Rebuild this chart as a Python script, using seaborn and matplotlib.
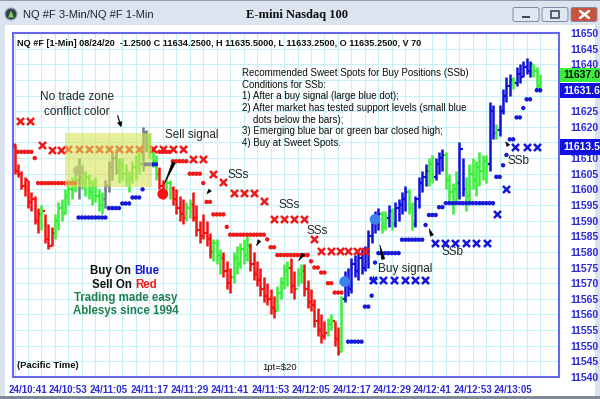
import numpy as np
import pandas as pd
import matplotlib
matplotlib.use("Agg")
import matplotlib.pyplot as plt
import seaborn as sns
from matplotlib.patches import Rectangle, FancyBboxPatch, Circle, Polygon

# 1-min bars from 10:37 to 13:13 (bar index 0..156)
bar_low = [11605, 11604, 11600, 11598, 11594, 11593, 11589, 11586, 11587, 11583,
           11581, 11582, 11584, 11587, 11590, 11592, 11595, 11597, 11599, 11597,
           11600, 11598, 11597, 11595, 11596, 11593, 11592, 11594, 11599, 11603,
           11605, 11602, 11603, 11601, 11599, 11602, 11603, 11605, 11606, 11612,
           11610, 11607, 11603, 11600, 11597, 11598, 11597, 11595, 11592, 11590,
           11589, 11590, 11591, 11590, 11585, 11583, 11584, 11582, 11578, 11577,
           11576, 11573, 11572, 11568, 11567, 11570, 11573, 11575, 11576, 11577,
           11574, 11571, 11569, 11566, 11564, 11563, 11560, 11559, 11561, 11565,
           11568, 11569, 11567, 11565, 11569, 11570, 11566, 11562, 11561, 11556,
           11553, 11551, 11552, 11553, 11555, 11550, 11547, 11548, 11564, 11566,
           11567, 11572, 11571, 11573, 11574, 11575, 11583, 11586, 11587, 11586,
           11587, 11588, 11587, 11588, 11590, 11592, 11593, 11592, 11587, 11588,
           11594, 11599, 11601, 11601, 11602, 11603, 11605, 11606, 11600, 11596,
           11592, 11596, 11597, 11598, 11593, 11596, 11600, 11598, 11601, 11603,
           11602, 11606, 11616, 11616, 11617, 11624, 11628, 11630, 11632, 11633,
           11634, 11636, 11637, 11636, 11636, 11632, 11631]
bar_high = [11614, 11608, 11606, 11604, 11603, 11599, 11598, 11594, 11595, 11592,
            11589, 11588, 11592, 11596, 11597, 11600, 11603, 11604, 11605, 11610,
            11608, 11606, 11605, 11603, 11604, 11600, 11599, 11603, 11609, 11612,
            11613, 11610, 11610, 11608, 11606, 11609, 11611, 11612, 11620, 11619,
            11618, 11614, 11611, 11607, 11603, 11604, 11603, 11601, 11600, 11598,
            11597, 11596, 11597, 11599, 11595, 11590, 11592, 11590, 11586, 11584,
            11584, 11581, 11580, 11577, 11575, 11580, 11582, 11583, 11584, 11585,
            11583, 11580, 11577, 11575, 11572, 11570, 11568, 11566, 11569, 11572,
            11576, 11577, 11578, 11574, 11575, 11576, 11576, 11571, 11568, 11565,
            11562, 11560, 11558, 11559, 11560, 11558, 11556, 11566, 11574, 11575,
            11578, 11579, 11580, 11581, 11582, 11587, 11591, 11593, 11594, 11593,
            11593, 11595, 11594, 11596, 11597, 11599, 11601, 11600, 11596, 11598,
            11604, 11606, 11608, 11610, 11611, 11610, 11612, 11613, 11612, 11605,
            11602, 11606, 11615, 11610, 11604, 11608, 11610, 11609, 11612, 11611,
            11611, 11628, 11627, 11621, 11627, 11632, 11636, 11637, 11636, 11639,
            11640, 11641, 11642, 11641, 11640, 11639, 11637]
bar_close = [11606, 11605, 11601, 11603, 11596, 11597, 11590, 11592, 11593, 11584,
             11582, 11586, 11590, 11594, 11592, 11598, 11600, 11602, 11603, 11604,
             11602, 11604, 11599, 11601, 11598, 11595, 11597, 11601, 11607, 11610,
             11606, 11608, 11605, 11603, 11604, 11607, 11609, 11608, 11618, 11614,
             11612, 11609, 11605, 11601, 11599, 11602, 11600, 11597, 11594, 11592,
             11591, 11594, 11595, 11591, 11587, 11585, 11586, 11584, 11580, 11583,
             11579, 11578, 11574, 11570, 11572, 11578, 11576, 11581, 11579, 11582,
             11576, 11573, 11571, 11568, 11566, 11565, 11562, 11561, 11567, 11570,
             11574, 11575, 11569, 11568, 11573, 11574, 11568, 11564, 11563, 11558,
             11555, 11553, 11554, 11557, 11558, 11552, 11548, 11565, 11571, 11568,
             11576, 11574, 11578, 11575, 11580, 11585, 11589, 11590, 11592, 11588,
             11591, 11593, 11589, 11594, 11595, 11597, 11599, 11594, 11589, 11597,
             11602, 11604, 11606, 11608, 11604, 11608, 11610, 11611, 11603, 11599,
             11600, 11602, 11613, 11600, 11598, 11605, 11603, 11607, 11606, 11609,
             11608, 11625, 11618, 11619, 11625, 11630, 11633, 11635, 11634, 11637,
             11636, 11639, 11638, 11640, 11638, 11633, 11634]
# R = sell (red), G = green, B = buy (blue), K = grey (conflict)
bar_color = list("RRRRRRRR" "G" "RRR" "GGGGGGG" "K" "GGGGGGG" "KKKK" "GGGGGGG" "KK"
                 "GGG" "RR" "GG" "RRRR" "GG" "RRRRRR" "GGG" "RRR" "GGGGG" "RRRRRRRR"
                 "GGGG" "RR" "GG" "RRRRRRR" "GG" "RR" "G" "BBBBBBBBBBB" "GG" "B" "G"
                 "BBBB" "GG" "BBBB" "GG" "BBB" "GGGG" "BB" "GGGGGGG" "BB" "G" "BBBB"
                 "G" "BBBBB" "GGG")

# trailing stop dots: (first bar, last bar, price)
red_dot_runs = [(0, 0, 11614), (1, 5, 11612), (6, 6, 11610), (7, 18, 11602),
                (43, 46, 11612), (47, 51, 11609), (52, 55, 11605), (56, 56, 11602),
                (57, 58, 11596), (59, 62, 11592), (63, 63, 11588), (64, 74, 11585.5),
                (75, 75, 11584), (76, 77, 11581.5), (78, 87, 11579), (88, 88, 11577),
                (89, 90, 11575), (91, 92, 11573.4), (93, 94, 11570), (95, 97, 11567)]
blue_dot_runs = [(19, 27, 11591), (28, 31, 11594), (32, 34, 11595.5), (35, 37, 11597.4),
                 (38, 38, 11600), (39, 42, 11608), (99, 103, 11551.3), (104, 105, 11562.5),
                 (106, 106, 11566), (107, 107, 11576.6), (108, 114, 11579.6),
                 (115, 121, 11583.9), (122, 122, 11588.6), (123, 125, 11591.8),
                 (126, 127, 11594.3), (128, 142, 11595.6), (143, 144, 11604),
                 (145, 145, 11607.7), (146, 146, 11611), (147, 148, 11616),
                 (149, 150, 11623), (151, 151, 11626), (152, 153, 11628.8),
                 (155, 156, 11631.7)]

# sweet spot markers
sss_x = [1.6, 4.6, 8.2, 11.1, 13.8, 16, 19, 22, 25, 28, 31, 34, 37, 41, 44, 47, 50,
         53, 56, 59, 62, 65, 68, 71, 74, 77, 80, 83, 86, 89,
         91, 94, 96.5, 99, 101.5, 104]
sss_y = [11622, 11622, 11614.2, 11612.6, 11612.6] + [11612.8] * 12 + \
        [11609.7, 11609.7, 11604.9, 11602.3, 11598.8, 11598.8, 11598.8, 11596.3] + \
        [11590.5] * 4 + [11584.1] + [11580.4] * 6
ssb_x = [106.4, 109.3, 112.6, 115.9, 119, 121.8, 124.8, 127.8, 130.7, 134, 137, 140.2,
         143.2, 145.8, 148.5, 152, 155]
ssb_y = [11571] * 6 + [11582.8] * 6 + [11592.1, 11600.1, 11613.5, 11613.5, 11613.5]

# signal dots
signal_x = [19, 44, 98, 107]
signal_y = [11606, 11598.5, 11570.5, 11590.4]
signal_kind = ["conflict", "sell", "buy", "buy"]

xtick_labels = ["24/10:41", "24/10:53", "24/11:05", "24/11:17", "24/11:29", "24/11:41",
                "24/11:53", "24/12:05", "24/12:17", "24/12:29", "24/12:41", "24/12:53",
                "24/13:05"]
# price levels hidden behind the last-price boxes
hidden_levels = [11615, 11630, 11635]

sns.set_style("white")
plt.rcParams['font.family'] = ['Liberation Sans', 'DejaVu Sans']

col_map = {"R": "#f21212", "G": "#38ee38", "B": "#1010d8", "K": "#6f7a82"}
blue_txt = "#2b2bd8"

fig = plt.figure(figsize=(6, 3.99), dpi=100)
fig.patch.set_facecolor("white")

# background / window frame (pixel coordinates)
bg = fig.add_axes([0, 0, 1, 1], zorder=0)
bg.set_xlim(0, 600)
bg.set_ylim(399, 0)
bg.axis("off")
bg.add_patch(Rectangle((0, 0), 600, 399, facecolor="#d9e2ed", edgecolor="none"))
bg.add_patch(Rectangle((5, 25), 590, 371, facecolor="white", edgecolor="none"))
bg.add_patch(Rectangle((0, 396), 600, 3, facecolor="#7f8a96", edgecolor="none"))

ax = fig.add_axes([13 / 600, 1 - 377 / 399, 546 / 600, 344 / 399], zorder=2)
ax.set_facecolor("none")
px = bg.transData

n = len(bar_close)
idx = np.arange(n)
bars = pd.DataFrame({"i": idx, "low": bar_low, "high": bar_high,
                     "close": bar_close, "kind": bar_color})
bars["open"] = bars["close"].shift(1).fillna(bars["high"])
colors = [col_map[k] for k in bars["kind"]]

ax.vlines(bars["i"], bars["low"], bars["high"], colors=colors, lw=1.8, zorder=3)
ax.hlines(bars["open"], bars["i"] - 0.6, bars["i"], colors=colors, lw=1.6, zorder=3)
ax.hlines(bars["close"], bars["i"], bars["i"] + 0.6, colors=colors, lw=1.6, zorder=3)

def expand(runs, name):
    rows = []
    for a, b, p in runs:
        for k in range(a, b + 1):
            rows.append((k, p, name))
    return rows

dots = pd.DataFrame(expand(red_dot_runs, "red") + expand(blue_dot_runs, "blue"),
                    columns=["i", "price", "side"])
sns.scatterplot(data=dots, x="i", y="price", hue="side",
                palette={"red": "#f01818", "blue": "#1818d8"},
                s=10, linewidth=0, legend=False, ax=ax, zorder=4)

ax.scatter(sss_x, sss_y, marker="x", s=26, linewidths=1.8, color="#f01818", zorder=4)
ax.scatter(ssb_x, ssb_y, marker="x", s=26, linewidths=1.8, color="#1616d8", zorder=4)
ax.scatter([ssb_x[0]], [ssb_y[0]], marker="*", s=60, linewidths=0, color="#1616d8", zorder=4)

sig = pd.DataFrame({"i": signal_x, "price": signal_y, "kind": signal_kind})
sns.scatterplot(data=sig, x="i", y="price", hue="kind",
                palette={"conflict": "#8c9aa2", "sell": "#ff0f0f", "buy": "#3b82ee"},
                s=60, linewidth=0, legend=False, ax=ax, zorder=5)

# no trade zone
ax.add_patch(Rectangle((15, 11600.7), 25.8, 17.3, facecolor="#d8e35a", alpha=0.6,
                       edgecolor="none", zorder=6))

ax.set_xlim(-0.45, 161.6)
ax.set_ylim(11540, 11650)
ax.set_xticks(np.arange(0, 157, 4))
lab = []
for t in np.arange(0, 157, 4):
    k = (t - 4) // 12
    lab.append(xtick_labels[k] if (t - 4) % 12 == 0 and 0 <= k < len(xtick_labels) else "")
ax.set_xticklabels(lab)
levels = np.arange(11540, 11651, 5)
ax.set_yticks(levels)
ax.set_yticklabels(["" if v in hidden_levels else str(v) for v in levels])
ax.yaxis.tick_right()
ax.tick_params(axis="y", length=0, pad=8, labelsize=7.5, labelcolor=blue_txt)
ax.tick_params(axis="x", length=3, width=1, color="#5a5ae8", pad=3,
               labelsize=7.0, labelcolor=blue_txt)
for t in ax.get_xticklabels() + ax.get_yticklabels():
    t.set_fontweight("bold")
ax.grid(True, color="#c4f0f6", lw=0.8, zorder=0)
ax.set_axisbelow(True)
for s in ax.spines.values():
    s.set_color("#6666ee")
    s.set_linewidth(1.5)
ax.set_xlabel("")
ax.set_ylabel("")

# header and notes
ax.text(17, 43, "NQ #F [1-Min] 08/24/20  -1.2500 C 11634.2500, H 11635.5000, "
        "L 11633.2500, O 11635.2500, V 70", transform=px, fontsize=6.6,
        fontweight="bold", va="center", color="#111111")
notes = ["Recommended Sweet Spots for Buy Positions (SSb)",
         "Conditions for SSb:",
         "1) After a buy signal (large blue dot);",
         "2) After market has tested support levels (small blue",
         "    dots below the bars);",
         "3) Emerging blue bar or green bar closed high;",
         "4) Buy at Sweet Spots."]
for k, line in enumerate(notes):
    ax.text(242, 73 + k * 11.7, line, transform=px, fontsize=7, va="center",
            color="#111111")

ax.text(77, 97, "No trade zone", transform=px, fontsize=8.5, ha="center", va="center",
        zorder=7)
ax.text(77, 112, "conflict color", transform=px, fontsize=8.5, ha="center", va="center",
        zorder=7)
ax.text(165, 135, "Sell signal", transform=px, fontsize=8.5, va="center", zorder=7)
ax.text(238, 175, "SSs", transform=px, fontsize=8.5, ha="center", va="center")
ax.text(289, 205, "SSs", transform=px, fontsize=8.5, ha="center", va="center")
ax.text(317, 231, "SSs", transform=px, fontsize=8.5, ha="center", va="center")
ax.text(405, 269, "Buy signal", transform=px, fontsize=8.5, ha="center", va="center")
ax.text(452, 252, "SSb", transform=px, fontsize=8.5, ha="center", va="center")
ax.text(518, 161, "SSb", transform=px, fontsize=8.5, ha="center", va="center")

ax.annotate("", xy=(31.9, 11619), xytext=(30.4, 11624.4),
            arrowprops=dict(arrowstyle="-|>", color="black", lw=0.8, mutation_scale=7),
            zorder=7)
wedges = [((47.6, 11609.4), (44.1, 11600.8)), ((58.6, 11600.4), (56.5, 11597.9)),
          ((73.1, 11584.4), (71.4, 11581.2)), ((86.2, 11580.0), (83.8, 11576.4)),
          ((109.6, 11576.8), (108.2, 11583.2)), ((124.2, 11584.4), (122.7, 11588.3)),
          ((147.0, 11613.2), (145.3, 11616.0))]
for tail, head in wedges:
    ax.annotate("", xy=head, xytext=tail,
                arrowprops=dict(arrowstyle="wedge,tail_width=0.25", color="black",
                                lw=0.3), zorder=7)

t1 = ax.text(90, 271, "Buy On ", transform=px, fontsize=8.3, fontweight="bold",
             va="center", color="#111111")
ax.annotate("Blue", xy=(1, 0), xycoords=t1, va="bottom", fontsize=8.3,
            fontweight="bold", color="#1a1ae6")
t2 = ax.text(92, 285, "Sell On ", transform=px, fontsize=8.3, fontweight="bold",
             va="center", color="#111111")
ax.annotate("Red", xy=(1, 0), xycoords=t2, va="bottom", fontsize=8.3,
            fontweight="bold", color="#ee1a1a")
ax.text(126, 298, "Trading made easy", transform=px, fontsize=8.3, fontweight="bold",
        ha="center", va="center", color="#1d8050")
ax.text(126, 311, "Ablesys since 1994", transform=px, fontsize=8.3, fontweight="bold",
        ha="center", va="center", color="#1d8050")
ax.text(17, 365, "(Pacific Time)", transform=px, fontsize=6.8, fontweight="bold",
        va="center", color="#111111")
ax.text(262, 367, "1pt=$20", transform=px, fontsize=6.8, va="center", color="#111111")

# top layer: title bar and price boxes
top = fig.add_axes([0, 0, 1, 1], zorder=10)
top.set_xlim(0, 600)
top.set_ylim(399, 0)
top.axis("off")
top.set_facecolor("none")
top.add_patch(Rectangle((0, 0), 600, 25, facecolor="#dbe4ef", edgecolor="none"))
top.add_patch(Rectangle((0, 0), 600, 1.2, facecolor="#8e9db0", edgecolor="none"))
top.add_patch(Circle((11, 14), 6, facecolor="#2f4050", edgecolor="#9aa8b8", lw=0.8))
top.add_patch(Polygon([(8, 17.5), (14, 17.5), (11, 10.5)], closed=True,
                      facecolor="#7fd04a", edgecolor="none"))
top.text(23, 15, "NQ #F 3-Min/NQ #F 1-Min", fontsize=8, va="center", color="#1e2630")
top.text(297, 15, "E-mini Nasdaq 100", fontsize=9, fontweight="bold",
         family="Liberation Serif", ha="center", va="center", color="#101010")
for x0, fc in [(513, "#dfe7f1"), (542, "#dfe7f1"), (571, "#c9523e")]:
    top.add_patch(FancyBboxPatch((x0, 7.5), 26, 14, boxstyle="round,pad=0,rounding_size=2",
                                 facecolor=fc, edgecolor="#7d8ca0", lw=0.7))
top.add_patch(Rectangle((522, 16), 8, 2, facecolor="#3c4a5c", edgecolor="none"))
top.add_patch(Rectangle((551, 11), 8, 6.5, facecolor="none", edgecolor="#3c4a5c", lw=1.2))
top.plot([580, 589], [11, 18], color="white", lw=1.8)
top.plot([580, 589], [18, 11], color="white", lw=1.8)

for y0, h, fc, tc, s in [(68, 14, "#3cef3c", "#101010", "11637.0"),
                         (83, 15, "#1010e0", "white", "11631.6"),
                         (139, 16, "#1010e0", "white", "11613.5")]:
    top.add_patch(Rectangle((560, y0), 42, h, facecolor=fc, edgecolor="none"))
    top.text(563, y0 + h / 2, s, fontsize=7.5, fontweight="bold", va="center", color=tc)

fig.savefig("out.png", dpi=100)
